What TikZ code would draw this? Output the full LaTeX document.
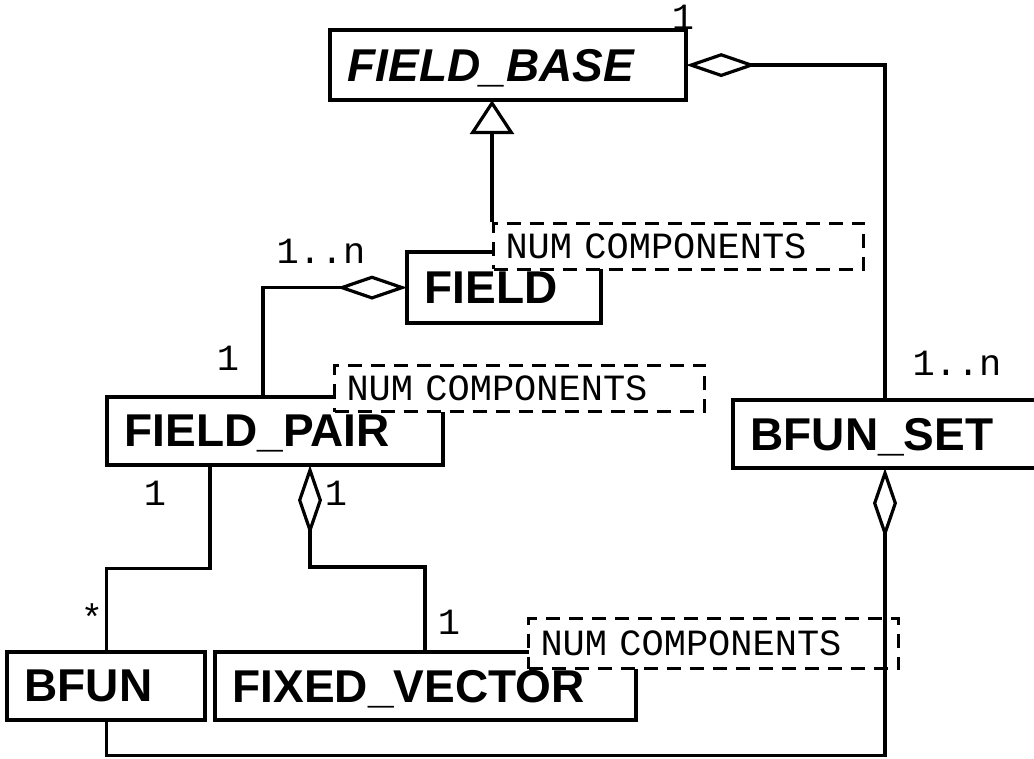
\documentclass[tikz,border=0pt]{standalone}
\usepackage{fontspec}
\setsansfont{Liberation Sans}
\setmonofont{Liberation Mono}
\usetikzlibrary{arrows.meta, backgrounds}

\begin{document}
\begin{tikzpicture}[
    x=1pt, y=-1pt,
    line width=3.2pt,
    % Estilo para el nombre de la clase (el marco se dibuja debajo)
    claseUML/.style={
        font=\sffamily\bfseries\fontsize{46}{46}\selectfont,
        anchor=north west, align=left, text depth=0pt,
        inner xsep=16pt, inner ysep=0pt
    },
    % Estilo para el marco de la clase
    marcoClase/.style={line width=3.8pt},
    % Estilo para el parametro de plantilla (caja discontinua)
    plantilla/.style={
        draw, dash pattern=on 14pt off 9pt, line width=3pt, fill=white,
        font=\ttfamily\fontsize{37}{37}\selectfont,
        anchor=north west, align=left,
        inner xsep=12pt, inner ysep=0pt,
        text width=346pt, minimum height=46pt
    },
    % Estilo para las multiplicidades
    multiplicidad/.style={
        font=\ttfamily\fontsize{37}{37}\selectfont, inner sep=0pt
    },
    agregacion/.style={-{Diamond[open, length=70pt, width=24pt]}},
    herencia/.style={-{Triangle[open, length=34pt, width=44pt]}}
]
    \useasboundingbox (0,0) rectangle (1034,759);

    % --- CLASES ---
    \node[claseUML, text width=321pt, minimum height=67pt,
        font=\sffamily\bfseries\itshape\fontsize{46}{46}\selectfont]
        (fieldBase) at (330,30) {FIELD\_BASE};
    \node[claseUML, text width=159pt, minimum height=68pt] (field) at (407,252) {FIELD};
    \node[claseUML, text width=301pt, minimum height=65pt] (fieldPair) at (107,397) {FIELD\_PAIR};
    \node[claseUML, text width=278pt, minimum height=65pt] (bfunSet) at (733,400) {BFUN\_SET};
    \node[claseUML, text width=163pt, minimum height=65pt] (bfun) at (7,652) {BFUN};
    \node[claseUML, text width=386pt, minimum height=65pt] (fixedVector) at (215,652) {FIXED\_VECTOR};

    % --- MARCOS Y PLANTILLAS (debajo del texto) ---
    \begin{scope}[on background layer]
        \foreach \c in {fieldBase, field, fieldPair, bfunSet, bfun, fixedVector}
            \draw[marcoClase] (\c.north west) rectangle (\c.south east);
        \node[plantilla] (fieldTmpl) at (492,222) {NUM COMPONENTS};
        \node[plantilla] (pairTmpl) at (333,364) {NUM COMPONENTS};
        \node[plantilla, minimum height=50pt] (vectorTmpl) at (527,617) {NUM COMPONENTS};
    \end{scope}

    % --- RELACIONES ---
    \draw[herencia] (fieldTmpl.north west) -- (fieldTmpl.north west |- fieldBase.south);
    \draw[agregacion] ([xshift=152pt]bfunSet.north west) |- (fieldBase.east);
    \draw[agregacion] ([xshift=156pt]fieldPair.north west) |- (field.west);
    \draw ([xshift=103pt]fieldPair.south west) -- ++(0,103) -| (bfun.north);
    \draw[agregacion] ([xshift=210pt]fixedVector.north west) -- ++(0,-85)
        -| ([xshift=203pt]fieldPair.south west);
    \draw[agregacion] (bfun.south) -- ++(0,35) -| ([xshift=152pt]bfunSet.south west);

    % --- MULTIPLICIDADES ---
    \node[multiplicidad] (mBase) at (683,17) {1};
    \node[multiplicidad] (mSet) at (957,363) {1..n};
    \node[multiplicidad] (mField) at (321,251) {1..n};
    \node[multiplicidad] (mPairTop) at (228,358) {1};
    \node[multiplicidad] (mPairBfun) at (155,493) {1};
    \node[multiplicidad] (mPairVec) at (336,493) {1};
    \node[multiplicidad] (mBfun) at (92,617) {*};
    \node[multiplicidad] (mVector) at (449,622) {1};

\end{tikzpicture}
\end{document}
